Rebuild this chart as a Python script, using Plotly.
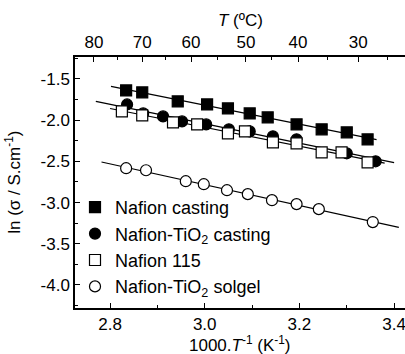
import numpy as np
import plotly.graph_objects as go

# ---- data (1000/T in K^-1, ln sigma) ----
cast_x = [2.834, 2.868, 2.943, 3.005, 3.049, 3.095, 3.133, 3.194, 3.247, 3.300, 3.344]
cast_y = [-1.639, -1.663, -1.772, -1.809, -1.857, -1.918, -1.966, -2.051, -2.111, -2.148, -2.233]

tio2_x = [2.836, 2.870, 2.912, 2.952, 3.003, 3.051, 3.095, 3.144, 3.194, 3.300, 3.361]
tio2_y = [-1.809, -1.918, -1.954, -2.015, -2.051, -2.111, -2.136, -2.196, -2.232, -2.402, -2.499]

n115_x = [2.825, 2.868, 2.933, 2.984, 3.049, 3.085, 3.144, 3.194, 3.247, 3.289, 3.344]
n115_y = [-1.893, -1.942, -2.027, -2.051, -2.160, -2.136, -2.269, -2.281, -2.390, -2.390, -2.511]

sol_x = [2.834, 2.876, 2.960, 2.998, 3.047, 3.091, 3.142, 3.194, 3.241, 3.355]
sol_y = [-2.583, -2.608, -2.741, -2.777, -2.850, -2.898, -2.971, -3.019, -3.080, -3.237]

# x-extent of each fitted line
cast_fit_range = [2.802, 3.363]
tio2_fit_range = [2.770, 3.400]
n115_fit_range = [2.800, 3.380]
sol_fit_range = [2.782, 3.410]

names = ["Nafion casting", "Nafion-TiO<sub>2</sub> casting", "Nafion 115", "Nafion-TiO<sub>2</sub> solgel"]

# bottom / left tick labels
x_ticks = [2.8, 3.0, 3.2, 3.4]
x_ticklabels = ["2.8", "3.0", "3.2", "3.4"]
y_ticks = [-1.5, -2.0, -2.5, -3.0, -3.5, -4.0]
y_ticklabels = ["-1.5", "-2.0", "-2.5", "-3.0", "-3.5", "-4.0"]

# top axis (temperature) ticks
top_labels = ["80", "70", "60", "50", "40", "30"]
top_tickpos = [2.766, 2.868, 2.971, 3.087, 3.197, 3.324]
top_minorpos = [2.815, 2.918, 3.026, 3.142, 3.260, 3.387]

FONT = "Liberation Sans, Arial, sans-serif"

fig = go.Figure()

series = [
    (cast_x, cast_y, cast_fit_range, "square", "black", names[0]),
    (tio2_x, tio2_y, tio2_fit_range, "circle", "black", names[1]),
    (n115_x, n115_y, n115_fit_range, "square", "white", names[2]),
    (sol_x, sol_y, sol_fit_range, "circle", "white", names[3]),
]

for xs, ys, rng, sym, fill, nm in series:
    k, b = np.polyfit(xs, ys, 1)
    lx = np.array(rng)
    fig.add_trace(go.Scatter(x=lx, y=k * lx + b, mode="lines",
                             line=dict(color="black", width=1.2),
                             showlegend=False, hoverinfo="skip"))

for xs, ys, rng, sym, fill, nm in series:
    fig.add_trace(go.Scatter(x=xs, y=ys, mode="markers", name=nm,
                             marker=dict(symbol=sym, size=11, color=fill,
                                         line=dict(color="black", width=1.2))))

fig.add_trace(go.Scatter(x=[top_tickpos[0]], y=[-1.5], xaxis="x2", mode="markers",
                         marker=dict(opacity=0), showlegend=False, hoverinfo="skip"))

xr = [2.726, 3.423]
common = dict(ticks="inside", ticklen=5, tickwidth=1, tickcolor="black",
              showline=True, linecolor="black", linewidth=1.5, showgrid=False,
              zeroline=False, automargin=False, tickfont=dict(size=17),
              ticklabeloverflow="allow")

fig.update_layout(
    width=405, height=354,
    margin=dict(l=75, r=0, t=57, b=46),
    paper_bgcolor="white", plot_bgcolor="white",
    font=dict(family=FONT, size=17, color="black"),
    showlegend=True,
    legend=dict(x=0.0, y=0.012, xanchor="left", yanchor="bottom",
                bgcolor="rgba(0,0,0,0)", font=dict(size=18),
                itemwidth=30, tracegroupgap=0),
    xaxis=dict(range=xr, tickvals=x_ticks, ticktext=x_ticklabels,
               minor=dict(tickvals=[2.9, 3.1, 3.3], ticks="inside", ticklen=3, tickcolor="black"),
               **common),
    xaxis2=dict(range=xr, overlaying="x", side="top", anchor="y",
                tickvals=top_tickpos, ticktext=top_labels,
                minor=dict(tickvals=top_minorpos, ticks="inside", ticklen=3, tickcolor="black"),
                **common),
    yaxis=dict(range=[-4.28, -1.233], tickvals=y_ticks, ticktext=y_ticklabels,
               minor=dict(dtick=0.25, tick0=-1.25, ticks="inside", ticklen=3, tickcolor="black"),
               **common),
    annotations=[
        dict(text="1000.<i>T</i><sup>-1</sup> (K<sup>-1</sup>)", xref="paper", yref="paper",
             x=0.5, y=-0.145, xanchor="center", yanchor="middle", showarrow=False,
             font=dict(size=17)),
        dict(text="<i>T</i> (ºC)", xref="paper", yref="paper",
             x=0.5, y=1.147, xanchor="center", yanchor="middle", showarrow=False,
             font=dict(size=17)),
        dict(text="ln (σ / S.cm<sup>-1</sup>)", xref="paper", yref="paper",
             x=-0.19, y=0.5, xanchor="center", yanchor="middle", textangle=-90,
             showarrow=False, font=dict(size=17)),
    ],
)

fig.write_html("out.html",
               config={"displayModeBar": False},
               post_script="document.body.style.margin='0';document.body.style.overflow='hidden';")
